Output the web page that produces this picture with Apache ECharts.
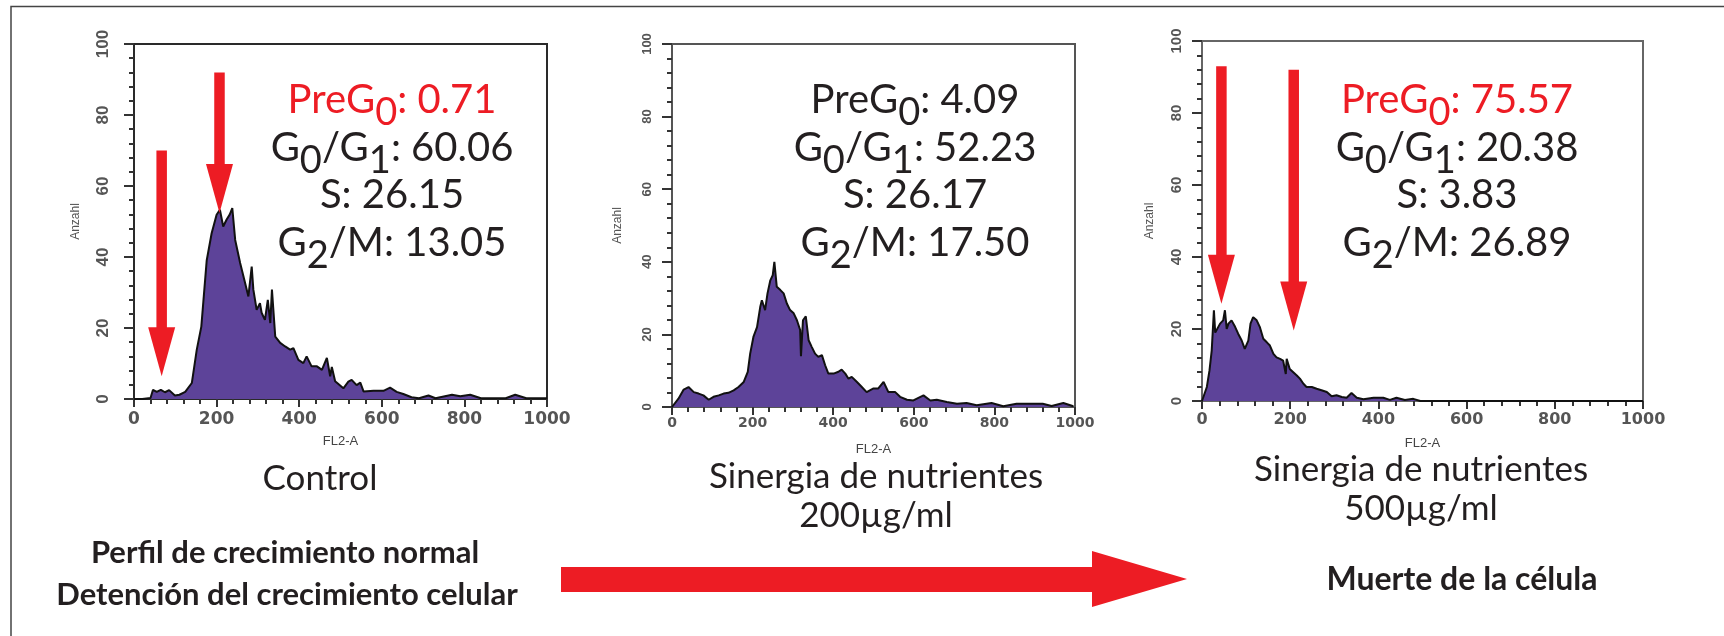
<!DOCTYPE html>
<html>
<head>
<meta charset="utf-8">
<script src="https://cdn.jsdelivr.net/npm/echarts@6/dist/echarts.min.js"></script>
<style>
  html, body { margin: 0; padding: 0; background: #fff; }
  #chart { width: 1724px; height: 636px; }
</style>
</head>
<body>
<div id="chart"></div>
<script>
// FL2-A channel / event count
const ctrlX = [0, 20, 40, 46, 55, 65, 75, 85, 99, 110, 124, 140, 152, 163, 176, 188, 200, 208, 216, 224, 232, 238, 245, 257, 269, 277, 285, 289, 297, 305, 309, 317, 324, 330, 334, 342, 354, 366, 378, 386, 398, 410, 418, 430, 443, 455, 467, 475, 479, 487, 491, 507, 519, 527, 539, 548, 556, 580, 604, 620, 636, 652, 672, 690, 713, 730, 770, 790, 814, 840, 900, 923, 950, 1000];
const ctrlY = [0, 0, 0.3, 2.6, 2.0, 2.6, 1.9, 2.5, 1.0, 1.2, 2.0, 4.5, 13.9, 20.4, 39, 46.7, 51.9, 53.3, 48.6, 50.5, 52, 53.8, 44.8, 38.3, 32.7, 28.9, 37.3, 30.8, 25.1, 27, 24.3, 22.3, 27.9, 21.4, 30.8, 17.6, 15.8, 14.8, 13.9, 14.3, 11, 10.1, 12, 9.2, 9.2, 8.2, 11.6, 6.4, 9, 5, 4.9, 3, 4.9, 5.4, 3.9, 4.6, 2.1, 2.3, 2.3, 3.2, 2, 1.4, 0.5, 0.2, 1.0, 0.2, 1.2, 0.8, 1.2, 0.2, 0.2, 1.2, 0.2, 0.2];

const n200X = [0, 4, 16, 29, 41, 54, 66, 78, 91, 103, 116, 128, 140, 153, 165, 178, 188, 194, 202, 211, 219, 223, 231, 237, 244, 250, 254, 260, 269, 277, 285, 293, 302, 310, 318, 320, 325, 332, 339, 347, 355, 363, 372, 380, 388, 401, 413, 421, 430, 438, 446, 459, 471, 483, 500, 512, 525, 537, 554, 566, 583, 599, 624, 641, 657, 682, 707, 731, 756, 793, 822, 855, 880, 900, 920, 942, 971, 996];
const n200Y = [0, 0, 2.3, 4.8, 5.5, 4.1, 3.7, 3.2, 2, 2.8, 3.2, 3.7, 3.9, 4.6, 5.5, 6.9, 9.7, 14.7, 19.3, 22, 27.6, 29.4, 26.7, 31.3, 34.9, 36.3, 40, 33.1, 32.2, 31.3, 28.5, 26.7, 25.8, 23.9, 21.2, 14, 23.9, 25, 18.4, 16.5, 14.7, 13.8, 14.3, 11.5, 9.2, 9.2, 9.7, 10.3, 9.2, 7.8, 8.3, 6.9, 5.5, 4.1, 5.1, 5.1, 6.9, 4.1, 4.1, 2.8, 2, 1.8, 3.2, 1.8, 2, 1.4, 0.9, 1.1, 0.5, 1.1, 0.2, 0.9, 0.9, 0.9, 0.9, 0.3, 1.1, 0.2];

const n500X = [0, 3, 11, 17, 22, 27, 30, 33, 41, 48, 52, 56, 60, 67, 75, 82, 90, 97, 105, 110, 116, 124, 131, 139, 147, 154, 162, 169, 177, 184, 190, 192, 199, 207, 215, 222, 230, 237, 249, 260, 271, 283, 294, 305, 317, 328, 339, 351, 366, 389, 411, 426, 441, 460, 479, 495, 1000];
const n500Y = [0, 0, 3.9, 8.5, 14, 25.2, 19, 18.7, 21.5, 22.4, 25.2, 20, 21.5, 22.4, 20.6, 18.7, 16.8, 14.5, 16.8, 21.5, 23.3, 22.4, 20.6, 17.3, 16.3, 15.4, 13.1, 12.1, 11.7, 11.2, 7.5, 11.7, 8.9, 8.0, 7.1, 6.2, 4.8, 3.9, 3.9, 3.4, 3, 2.5, 1.3, 1.6, 1.1, 0.9, 2.2, 0.9, 0.5, 0.9, 0.9, 0.3, 0.9, 0.3, 0.6, 0, 0];

// cell-cycle percentages per panel
const preG0 = [0.71, 4.09, 75.57];
const g0g1 = [60.06, 52.23, 20.38];
const sPhase = [26.15, 26.17, 3.83];
const g2m = [13.05, 17.50, 26.89];
const preG0Red = [true, false, true];

const captions = [['Control'], ['Sinergia de nutrientes', '200µg/ml'], ['Sinergia de nutrientes', '500µg/ml']];

// arrows: [FL2-A, count at top, count at tip]
const ctrlArrows = [[67, 70, 6.4], [207, 92, 52.4]];
const n500Arrows = [[44, 93, 27], [208, 92, 19.6]];

const RED = '#ED1C24';
const INK = '#231F20';
const FILL = '#5D4399';

const grids = [
  { left: 134, top: 44, width: 413, height: 355, frame: '#2a2a2a', xFont: 17, yFont: 17, xMargin: 12, yMargin: 22, nameGapY: 52 },
  { left: 672, top: 44, width: 403, height: 363, frame: '#555', xFont: 14, yFont: 13, xMargin: 9, yMargin: 18, nameGapY: 48 },
  { left: 1202, top: 41, width: 441, height: 360, frame: '#666', xFont: 16, yFont: 15, xMargin: 11, yMargin: 18, nameGapY: 46 }
];
const textCenters = [392, 915, 1457];
const textBaselines = [112, 160, 207, 255];
const captionCenters = [[320, 479], [876, 477], [1421, 470]];

const chart = echarts.init(document.getElementById('chart'));

function xAxisFor(i) {
  const g = grids[i];
  return {
    gridIndex: i, type: 'value', min: 0, max: 1000, interval: 200,
    name: 'FL2-A', nameLocation: 'middle', nameGap: 36,
    nameTextStyle: { fontSize: 13, color: '#444', fontFamily: 'Liberation Sans' },
    axisLine: { show: true, onZero: false, lineStyle: { color: g.frame, width: 2 } },
    axisTick: { show: true, length: 8, lineStyle: { color: '#333', width: 2 } },
    minorTick: { show: true, splitNumber: 5, length: 5, lineStyle: { color: '#333', width: 2 } },
    axisLabel: { fontSize: g.xFont, fontWeight: 'bold', color: '#555', margin: g.xMargin, fontFamily: 'DejaVu Sans', formatter: v => String(v) },
    splitLine: { show: false }
  };
}

function yAxisFor(i) {
  const g = grids[i];
  return {
    gridIndex: i, type: 'value', min: 0, max: 100, interval: 20,
    name: 'Anzahl', nameLocation: 'middle', nameGap: g.nameGapY, nameRotate: 90,
    nameTextStyle: { fontSize: 12, color: '#555', fontFamily: 'Liberation Sans' },
    axisLine: { show: true, onZero: false, lineStyle: { color: g.frame, width: 2 } },
    axisTick: { show: true, length: 10, lineStyle: { color: '#333', width: 2 } },
    minorTick: { show: true, splitNumber: 5, length: 5, lineStyle: { color: '#333', width: 2 } },
    axisLabel: { rotate: 90, fontSize: g.yFont, fontWeight: 'bold', color: '#555', margin: g.yMargin, fontFamily: 'Liberation Sans' },
    splitLine: { show: false }
  };
}

function histSeries(i, xs, ys) {
  return {
    type: 'line', xAxisIndex: i, yAxisIndex: i,
    data: xs.map((x, k) => [x, ys[k]]),
    showSymbol: false, symbol: 'none',
    lineStyle: { color: '#111', width: 2 },
    areaStyle: { color: FILL, opacity: 1 },
    z: 2
  };
}

function arrowSeries(i, arrows) {
  return {
    type: 'custom', xAxisIndex: i, yAxisIndex: i,
    data: arrows, encode: { x: 0, y: 1 }, clip: false, z: 5,
    renderItem: function (params, api) {
      const top = api.coord([api.value(0), api.value(1)]);
      const tip = api.coord([api.value(0), api.value(2)]);
      const headH = 49, headW = 27, shaftW = 10.5;
      return {
        type: 'group',
        children: [
          { type: 'rect', shape: { x: top[0] - shaftW / 2, y: top[1], width: shaftW, height: tip[1] - headH - top[1] + 1 }, style: { fill: RED } },
          { type: 'polygon', shape: { points: [[tip[0] - headW / 2, tip[1] - headH], [tip[0] + headW / 2, tip[1] - headH], [tip[0], tip[1]]] }, style: { fill: RED } }
        ]
      };
    }
  };
}

const mainRich = { fontSize: 40, fontFamily: 'Lato', verticalAlign: 'bottom', padding: [0, 0, 12, 0] };
const subRich = { fontSize: 38, fontFamily: 'Lato', verticalAlign: 'bottom' };

function statText(cx, baseline, str, color) {
  return {
    type: 'text', x: cx, y: baseline + 20, z: 10,
    style: {
      text: str, align: 'center', verticalAlign: 'bottom', fill: color,
      rich: {
        m: Object.assign({ color: color }, mainRich),
        s: Object.assign({ color: color }, subRich)
      }
    }
  };
}

const graphics = [
  { type: 'polyline', shape: { points: [[11, 636], [11, 6.5], [1724, 6.5]] }, style: { stroke: '#444', lineWidth: 1.5, fill: null } }
];

for (let i = 0; i < 3; i++) {
  const cx = textCenters[i];
  const preColor = preG0Red[i] ? RED : INK;
  graphics.push(statText(cx, textBaselines[0], '{m|PreG}{s|0}{m|: ' + preG0[i].toFixed(2) + '}', preColor));
  graphics.push(statText(cx, textBaselines[1], '{m|G}{s|0}{m|/G}{s|1}{m|: ' + g0g1[i].toFixed(2) + '}', INK));
  graphics.push(statText(cx, textBaselines[2], '{m|S: ' + sPhase[i].toFixed(2) + '}', INK));
  graphics.push(statText(cx, textBaselines[3], '{m|G}{s|2}{m|/M: ' + g2m[i].toFixed(2) + '}', INK));
  captions[i].forEach((line, k) => {
    graphics.push({
      type: 'text', x: captionCenters[i][0], y: captionCenters[i][1] + k * 39,
      style: { text: line, align: 'center', verticalAlign: 'middle', fill: INK, font: '35px Lato' }
    });
  });
}

// bottom legend strip
graphics.push({ type: 'text', x: 285, y: 553, style: { text: 'Perfil de crecimiento normal', align: 'center', verticalAlign: 'middle', fill: INK, font: 'bold 31px Lato' } });
graphics.push({ type: 'text', x: 287, y: 595, style: { text: 'Detención del crecimiento celular', align: 'center', verticalAlign: 'middle', fill: INK, font: 'bold 31px Lato' } });
graphics.push({ type: 'text', x: 1462, y: 580, style: { text: 'Muerte de la célula', align: 'center', verticalAlign: 'middle', fill: INK, font: 'bold 32px Lato' } });
graphics.push({
  type: 'polygon',
  shape: { points: [[561, 567], [1092, 567], [1092, 551], [1187, 579], [1092, 607], [1092, 592], [561, 592]] },
  style: { fill: RED }
});

chart.setOption({
  animation: false,
  backgroundColor: '#fff',
  grid: grids.map(g => ({ left: g.left, top: g.top, width: g.width, height: g.height, show: true, borderColor: g.frame, borderWidth: 2, backgroundColor: '#fff' })),
  xAxis: [0, 1, 2].map(xAxisFor),
  yAxis: [0, 1, 2].map(yAxisFor),
  series: [
    histSeries(0, ctrlX, ctrlY),
    histSeries(1, n200X, n200Y),
    histSeries(2, n500X, n500Y),
    arrowSeries(0, ctrlArrows),
    arrowSeries(2, n500Arrows)
  ],
  graphic: graphics
});
</script>
</body>
</html>
